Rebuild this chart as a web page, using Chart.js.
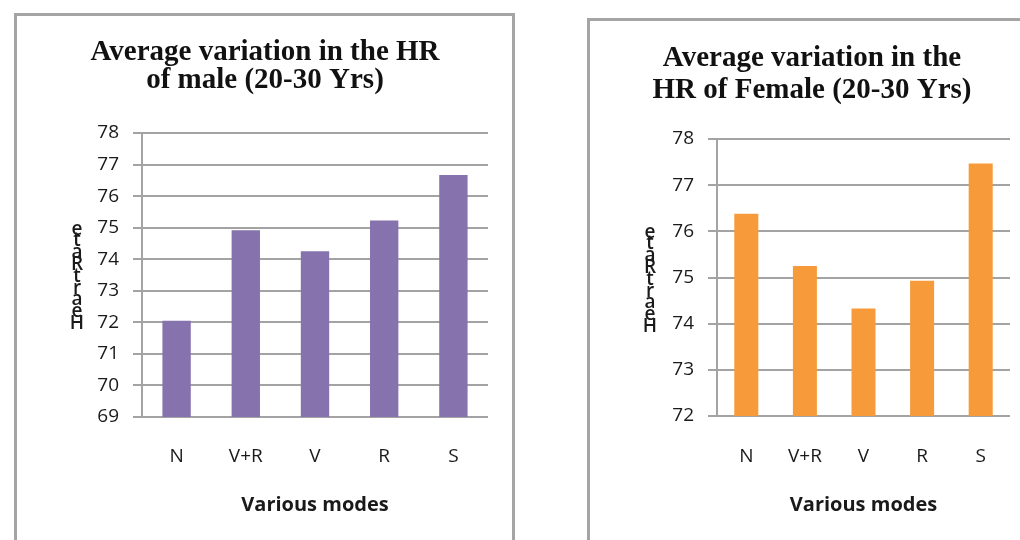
<!DOCTYPE html>
<html>
<head>
<meta charset="utf-8">
<script src="https://cdn.jsdelivr.net/npm/chart.js@4/dist/chart.umd.min.js"></script>
<style>
    html, body { margin: 0; padding: 0; background: #fff; overflow: hidden; }
    body { width: 1020px; height: 540px; position: relative; }
    .box {
        position: absolute;
        border: 3px solid #a5a5a5;
        border-bottom: none;
        background: #fff;
    }
    #maleBox { left: 14px; top: 13px; width: 495px; height: 527px; }
    #femaleBox { left: 587px; top: 18px; width: 444px; height: 522px; }
    canvas { display: block; }
</style>
</head>
<body>
<div class="box" id="maleBox"><canvas id="maleChart" width="495" height="524"></canvas></div>
<div class="box" id="femaleBox"><canvas id="femaleChart" width="444" height="519"></canvas></div>

<script>
'use strict';

// categories on x axis
const modes = ['N', 'V+R', 'V', 'R', 'S'];

// heart rate values
const maleHR = [72.05, 74.92, 74.25, 75.23, 76.67];
const femaleHR = [76.38, 75.25, 74.33, 74.93, 77.47];

// y axis range [min, max]
const maleRange = [69, 78];
const femaleRange = [72, 78];

const maleTitle = ['Average variation in the HR', 'of male (20-30 Yrs)'];
const femaleTitle = ['Average variation in the', 'HR of Female (20-30 Yrs)'];

const xTitle = 'Various modes';
const yTitle = 'HeartRate';

const textColor = '#1a1a1a';
const gridColor = '#a3a3a3';
const sans = '"Open Sans", "Noto Sans", sans-serif';

// draws the y title as upright letters stacked bottom to top
const stackedTitle = {
    id: 'stackedTitle',
    afterDraw(chart, args, opts) {
        var ctx = chart.ctx;
        var letters = opts.text.split('');
        ctx.save();
        ctx.font = '600 ' + opts.size + 'px ' + sans;
        ctx.fillStyle = textColor;
        ctx.textAlign = 'center';
        ctx.textBaseline = 'alphabetic';
        letters.forEach(function (ch, i) {
            ctx.fillText(ch, opts.x, opts.bottom - i * opts.step);
        });
        ctx.restore();
    }
};

function makeChart(canvasId, values, range, title, color, geo) {
    var ctx = document.getElementById(canvasId).getContext('2d');

    return new Chart(ctx, {
        type: 'bar',
        data: {
            labels: modes,
            datasets: [{
                data: values,
                backgroundColor: color,
                borderWidth: 0,
                barPercentage: 0.41,
                categoryPercentage: 1.0
            }]
        },
        options: {
            responsive: false,
            animation: false,
            devicePixelRatio: 1,
            layout: {
                padding: { left: geo.padLeft, right: geo.padRight, top: 0, bottom: 0 }
            },
            plugins: {
                legend: { display: false },
                tooltip: { enabled: false },
                title: {
                    display: true,
                    text: title,
                    color: '#111',
                    font: { family: '"Liberation Serif", "Times New Roman", serif', weight: 'bold', size: 29, lineHeight: geo.titleLine + 'px' },
                    padding: { top: geo.titleTop, bottom: geo.titleBottom }
                },
                stackedTitle: { text: yTitle, x: geo.yTitleX, bottom: geo.yTitleBottom, step: 11.8, size: 19 }
            },
            scales: {
                x: {
                    grid: { display: false, drawTicks: false },
                    border: { display: false },
                    ticks: { color: textColor, font: { family: sans, size: 19 }, padding: geo.xTickPad },
                    title: {
                        display: true,
                        text: xTitle,
                        color: textColor,
                        font: { family: sans, size: 20, weight: 'bold' },
                        padding: { top: 0, bottom: 23 }
                    },
                    afterFit: function (scale) { scale.height = geo.xHeight; }
                },
                y: {
                    min: range[0],
                    max: range[1],
                    ticks: { stepSize: 1, color: textColor, font: { family: sans, size: 19 }, padding: 14 },
                    grid: { color: gridColor, lineWidth: 2, tickLength: 9, drawTicks: true },
                    border: { display: true, color: gridColor, width: 2 },
                    afterFit: function (scale) { scale.width = geo.yWidth; }
                }
            }
        },
        plugins: [stackedTitle]
    });
}

makeChart('maleChart', maleHR, maleRange, maleTitle, '#8673ae', {
    padLeft: 25, padRight: 24, yWidth: 100, xHeight: 123,
    titleLine: 28.5, titleTop: 22, titleBottom: 38,
    xTickPad: 28, yTitleX: 60, yTitleBottom: 313
});

makeChart('femaleChart', femaleHR, femaleRange, femaleTitle, '#f79b3a', {
    padLeft: 24, padRight: 24, yWidth: 103, xHeight: 124,
    titleLine: 31.5, titleTop: 22, titleBottom: 33,
    xTickPad: 29, yTitleX: 60, yTitleBottom: 311
});
</script>
</body>
</html>
